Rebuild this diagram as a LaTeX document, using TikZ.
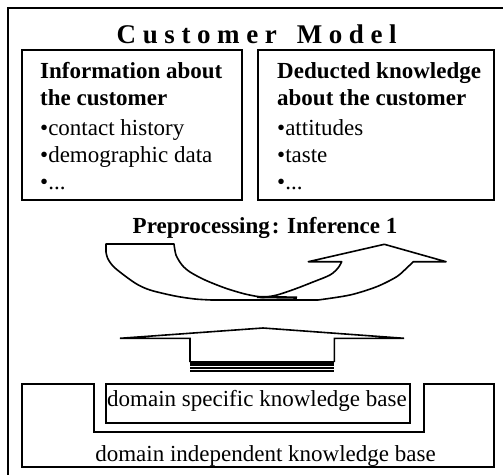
\documentclass[tikz,border=0pt]{standalone}
\usepackage{fontspec}
\setmainfont{Liberation Serif}
\begin{document}
\begin{tikzpicture}[x=1pt,y=-1pt,line join=miter,
  frame/.style={draw=black,line width=2pt},
  boxshape/.style={draw=black,line width=1.8pt,inner sep=0pt,outer sep=0pt},
  arrowshape/.style={draw=black,line width=1.6pt,line join=round},
  txt/.style={font=\fontsize{23}{27}\selectfont,inner sep=0pt,anchor=base west},
  btxt/.style={font=\fontsize{23}{27}\selectfont\bfseries,inner sep=0pt,anchor=base west},
  ctxt/.style={font=\fontsize{23}{27}\selectfont,inner sep=0pt,anchor=base}]
\useasboundingbox (0,0) rectangle (503,474);
\clip (0,0) rectangle (503,474);
\fill[white] (0,0) rectangle (503,474);
\draw[frame] (7.5,7.5) rectangle (520,490);
% title
\node[inner sep=0pt,anchor=base west,font=\fontsize{27}{30}\selectfont\bfseries] (title) at (116.5,43.3)
  {C\kern6.6pt u\kern6.6pt s\kern6.6pt t\kern6.6pt o\kern6.6pt m\kern6.6pt e\kern6.6pt r\kern6.6pt\ \kern6.6pt M\kern6.6pt o\kern6.6pt d\kern6.6pt e\kern6.6pt l};
% boxes
\node[boxshape,minimum width=220.5pt,minimum height=150pt] (info) at (132,125) {};
\node[boxshape,minimum width=236pt,minimum height=150pt] (deduct) at (376,125) {};
\node[btxt] (i1) at (40,78) {Information about};
\node[btxt] (i2) at (40,105) {the customer};
\node[txt] (i3) at (40,135) {•contact history};
\node[txt] (i4) at (40,162) {•demographic data};
\node[txt] (i5) at (40,189.5) {•...};
\node[btxt] (d1) at (277,78) {Deducted knowledge};
\node[btxt] (d2) at (277,105) {about the customer};
\node[txt] (d3) at (277,135) {•attitudes};
\node[txt] (d4) at (277,162) {•taste};
\node[txt] (d5) at (277,189.5) {•...};
% preprocessing label
\node[btxt,anchor=base] (pre) at (265,233) {Preprocessing\kern2pt: Inference 1};
% U-shaped arrow
\draw[arrowshape] (106,244) -- (174,244)
  -- plot[smooth,tension=0.5] coordinates {(174,244) (176,255) (182,265) (190,272) (205,280) (225,288) (245,294) (263,297.5)}
  -- plot[smooth,tension=0.5] coordinates {(263,297.5) (277,295) (295,289) (313,282) (330,275) (338,268) (341.7,261.7)}
  -- (308.3,261.7) -- (384.3,244.3) -- (446,261.7) -- (413.3,261.7)
  -- plot[smooth,tension=0.5] coordinates {(413.3,261.7) (406.7,268) (396.7,276.7) (376.7,286.7) (350,295) (318,300)}
  -- (211.7,300)
  -- plot[smooth,tension=0.5] coordinates {(211.7,300) (195,299) (175,296) (150,290) (135,283) (115,268) (108,259) (106,252)}
  -- cycle;
\draw[line width=2.4pt] (257,297) -- (297,297.6);
% upward arrow
\draw[arrowshape,line join=miter] (190,362) -- (190,338.3) -- (120,338.3) -- (263,328) -- (404,338.3) -- (334.3,338.3) -- (334.3,362);
\foreach \yy in {362.6,365.3,368.0,370.7}
  \draw[line width=2.3pt] (190,\yy) -- (334.3,\yy);
% knowledge bases
\draw[boxshape] (21.7,384) -- (94.3,384) -- (94.3,431.7) -- (424.3,431.7) -- (424.3,384) -- (494,384) -- (494,466.7) -- (21.7,466.7) -- cycle;
\node[boxshape,minimum width=304pt,minimum height=39pt] (dskb) at (258,403.8) {};
\node[ctxt] (dsk) at (257,406.7) {domain specific knowledge base};
\node[ctxt] (dik) at (265.5,461.7) {domain independent knowledge base};
\end{tikzpicture}
\end{document}
